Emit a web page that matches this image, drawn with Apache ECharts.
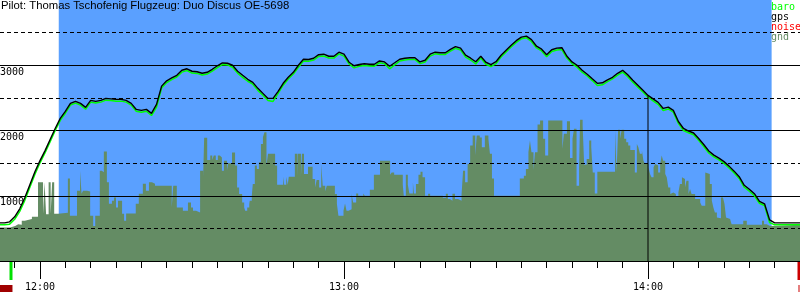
<!DOCTYPE html>
<html>
<head>
<meta charset="utf-8">
<script src="https://cdn.jsdelivr.net/npm/echarts@6/dist/echarts.min.js"></script>
<style>
  html, body { margin: 0; padding: 0; background: #fff; }
  #chart { width: 800px; height: 300px; }
</style>
</head>
<body>
<div id="chart"></div>
<script>
// times are minutes after midnight
const titleText = 'Pilot: Thomas Tschofenig Flugzeug: Duo Discus OE-5698'
const viewStart = 712.105
const viewEnd = 870
const sampleStart = 712 // one sample per minute from 11:52
const flightWindow = [723.7, 864.4]
const takeoffTime = 714.37
const landingTime = 869.8
const cursor = [840, 2530]
const minorTicks = [715, 720, 725, 730, 735, 740, 745, 750, 755, 760, 765, 770, 775, 780, 785, 790,
  795, 800, 805, 810, 815, 820, 825, 830, 835, 840, 845, 850, 855, 860, 865, 870]
const hourTicks = [720, 780, 840]
const altLabels = [1000, 2000, 3000]

const gpsAlt = [585, 585, 600, 677, 800, 969, 1169, 1369, 1538, 1692, 1862, 2031, 2185, 2292, 2415, 2446,
  2415, 2354, 2462, 2446, 2462, 2492, 2485, 2477, 2477, 2462, 2415, 2323, 2308, 2323, 2262, 2400,
  2680, 2762, 2805, 2846, 2923, 2946, 2908, 2900, 2877, 2892, 2938, 2992, 3035, 3031, 3000, 2908,
  2846, 2785, 2738, 2646, 2569, 2492, 2492, 2600, 2723, 2815, 2892, 3000, 3092, 3088, 3108, 3162,
  3169, 3138, 3138, 3200, 3169, 3046, 2992, 3011, 3023, 3015, 3015, 3066, 3051, 2985, 3038, 3092,
  3108, 3115, 3115, 3051, 3077, 3169, 3200, 3192, 3192, 3242, 3285, 3262, 3154, 3108, 3054, 3138,
  3046, 3011, 3054, 3154, 3231, 3308, 3377, 3431, 3446, 3392, 3292, 3246, 3162, 3238, 3262, 3269,
  3138, 3051, 3000, 2923, 2862, 2792, 2723, 2731, 2777, 2815, 2877, 2923, 2854, 2769, 2692, 2615,
  2538, 2485, 2431, 2338, 2358, 2308, 2138, 2031, 1992, 1962, 1877, 1785, 1685, 1623, 1577, 1523,
  1454, 1377, 1292, 1160, 1100, 1031, 915, 877, 630, 585, 585, 585, 585, 585, 585]

const baroAlt = [554, 554, 565, 640, 760, 930, 1130, 1330, 1505, 1660, 1830, 2000, 2155, 2265, 2390, 2420,
  2390, 2325, 2435, 2420, 2435, 2465, 2460, 2450, 2450, 2435, 2390, 2295, 2280, 2295, 2230, 2360,
  2650, 2735, 2780, 2820, 2895, 2920, 2880, 2875, 2850, 2865, 2910, 2965, 3010, 3005, 2970, 2880,
  2815, 2755, 2710, 2615, 2540, 2460, 2445, 2570, 2695, 2790, 2865, 2970, 3065, 3060, 3080, 3135,
  3140, 3110, 3110, 3175, 3140, 3020, 2960, 2985, 2995, 2990, 2985, 3040, 3025, 2945, 3005, 3065,
  3080, 3090, 3090, 3025, 3050, 3140, 3175, 3165, 3165, 3215, 3260, 3235, 3125, 3080, 3020, 3110,
  3015, 2980, 3025, 3125, 3205, 3280, 3350, 3405, 3420, 3365, 3265, 3220, 3130, 3210, 3235, 3240,
  3110, 3025, 2970, 2895, 2835, 2765, 2690, 2700, 2750, 2790, 2850, 2895, 2825, 2740, 2665, 2590,
  2510, 2455, 2400, 2305, 2330, 2280, 2110, 2000, 1965, 1935, 1850, 1755, 1655, 1595, 1550, 1495,
  1425, 1350, 1265, 1130, 1070, 1000, 885, 850, 590, 554, 554, 554, 554, 554, 554]

const noise = []

// ground elevation under the track: [time, metres], each level holds until the next time
const gndSteps = [
  [712.1, 515], [714.1, 538], [715.1, 565], [715.7, 554], [716.4, 615], [717.0, 642], [718.4, 677],
  [719.6, 1205], [720.6, 718], [720.9, 1205], [721.2, 718], [721.7, 1205], [722.1, 718], [722.4, 1205],
  [722.8, 723], [723.6, 738], [725.5, 1266], [725.9, 692], [727.3, 1077], [727.9, 1385], [728.2, 1031],
  [728.5, 1077], [729.3, 1066], [729.9, 692], [730.5, 538], [730.9, 692], [731.8, 1385], [732.2, 1362],
  [732.6, 1677], [733.2, 1205], [733.6, 877], [734.2, 923], [734.6, 974], [735.0, 820], [735.4, 923],
  [736.2, 723], [736.6, 615], [737.0, 728], [738.9, 877], [739.5, 1031], [740.3, 1185], [740.9, 1077],
  [741.5, 1205], [742.1, 1185], [742.7, 1154], [746.0, 820], [746.3, 1154], [747.0, 820], [748.2, 769],
  [749.2, 897], [749.8, 820], [750.2, 769], [750.8, 743], [751.6, 1385], [752.2, 1282], [752.4, 1888],
  [753.0, 1549], [753.6, 1615], [754.0, 1549], [754.3, 1615], [754.7, 1549], [755.1, 1615], [755.5, 1585],
  [755.9, 1385], [756.3, 1538], [756.9, 1385], [757.1, 1497], [757.9, 1662], [758.5, 1462], [758.9, 1128],
  [759.3, 1026], [759.9, 897], [760.3, 820], [760.5, 769], [760.9, 820], [761.3, 872], [761.4, 923],
  [761.8, 1000], [762.0, 1180], [762.4, 1462], [762.8, 1411], [763.2, 1512], [763.6, 1795], [764.0, 1897],
  [764.3, 1974], [764.7, 1462], [765.0, 1642], [766.4, 1462], [766.8, 1169], [768.0, 1292], [768.2, 1169],
  [768.6, 1292], [768.9, 1169], [769.1, 1292], [770.3, 1642], [770.8, 1292], [770.9, 1642], [771.5, 1292],
  [771.7, 1642], [772.1, 1334], [772.9, 1446], [773.8, 1257], [774.3, 1128], [774.6, 1242], [775.1, 1128],
  [775.5, 1488], [775.8, 1154], [776.3, 1066], [776.6, 1154], [778.2, 1026], [778.6, 872], [778.9, 692],
  [779.9, 769], [780.2, 882], [780.5, 769], [780.9, 795], [781.5, 1026], [781.8, 897], [782.4, 1035],
  [782.8, 1000], [783.8, 1035], [784.1, 1000], [785.1, 1092], [785.9, 1323], [787.1, 1538], [789.1, 1323],
  [789.4, 1358], [789.9, 1323], [791.6, 1169], [791.8, 1000], [792.2, 1323], [792.6, 1169], [792.9, 1035],
  [793.6, 1205], [793.8, 1035], [794.2, 1180], [794.7, 1323], [795.1, 1369], [795.5, 1282], [796.0, 1000],
  [796.6, 1031], [797.0, 1000], [799.5, 969], [800.1, 1031], [800.5, 949], [800.9, 923], [801.4, 1031],
  [801.9, 949], [802.5, 923], [803.2, 1015], [803.5, 1385], [803.9, 1205], [804.4, 1488], [804.9, 1769],
  [805.4, 1923], [805.9, 1615], [806.2, 1923], [806.8, 1892], [807.2, 1743], [807.8, 1923], [808.5, 1872],
  [808.8, 1642], [809.2, 1266], [809.6, 1000], [814.7, 1266], [815.5, 1308], [815.9, 1411], [816.4, 1666],
  [816.7, 1846], [817.0, 1666], [817.4, 1395], [817.7, 1666], [818.2, 2092], [818.7, 2154], [819.3, 1872],
  [819.7, 1615], [820.3, 2154], [823.1, 1718], [823.4, 1949], [824.0, 2143], [824.6, 1580], [825.1, 1872],
  [825.4, 2026], [825.9, 1154], [826.4, 1446], [826.6, 2165], [827.1, 2077], [827.4, 1477], [827.9, 1565],
  [828.4, 1846], [828.8, 1743], [829.1, 1358], [829.5, 1035], [830.0, 1369], [833.5, 2011], [833.8, 1369],
  [834.1, 2011], [834.5, 1872], [834.8, 2011], [835.3, 1872], [835.7, 1820], [836.1, 1769], [836.5, 1703],
  [837.4, 1358], [837.8, 1795], [838.1, 1743], [838.4, 1642], [838.8, 1692], [839.1, 1538], [839.4, 1488],
  [840.1, 1435], [840.4, 1334], [840.7, 1282], [841.1, 1435], [841.4, 1488], [841.7, 1462], [842.0, 1358],
  [842.4, 1488], [842.7, 1615], [843.0, 1538], [843.4, 1334], [843.7, 1282], [844.0, 1128], [844.4, 1026],
  [844.7, 1051], [845.0, 1026], [845.5, 985], [846.0, 1051], [846.3, 1180], [846.7, 1282], [847.0, 1257],
  [847.3, 1128], [847.6, 1231], [848.0, 1026], [848.3, 1103], [848.6, 1026], [849.3, 949], [850.3, 897],
  [850.6, 846], [851.3, 1358], [851.6, 1334], [852.2, 1180], [852.6, 923], [852.9, 820], [853.2, 743],
  [853.6, 666], [853.9, 657], [854.4, 974], [854.8, 949], [855.1, 872], [855.4, 666], [855.7, 642],
  [856.2, 615], [856.5, 565], [858.8, 615], [859.5, 554], [862.5, 615], [862.9, 565], [863.4, 538],
  [864.1, 554], [870.0, 554]
]

const blue = '#5aa0ff'
const gndColor = '#648c64'
const monoFont = 'DejaVu Sans Mono'

function hhmm(v) {
  const h = Math.floor(v / 60)
  const m = Math.round(v - h * 60)
  return h + ':' + String(m).padStart(2, '0')
}

const chart = echarts.init(document.getElementById('chart'))

const option = {
  animation: false,
  title: {
    text: titleText,
    left: 0,
    top: 0,
    padding: [0, 1],
    z: 10,
    textStyle: { fontFamily: 'Liberation Sans', fontSize: 11.3, fontWeight: 'normal', color: '#000' }
  },
  legend: {
    orient: 'vertical',
    left: 765,
    top: 2,
    padding: 0,
    itemGap: 0,
    itemWidth: 0,
    itemHeight: 0,
    selectedMode: false,
    textStyle: { fontFamily: monoFont, fontSize: 10, lineHeight: 10 },
    data: [
      { name: 'baro', textStyle: { color: '#00ff00' } },
      { name: 'gps', textStyle: { color: '#000' } },
      { name: 'noise', textStyle: { color: '#ff0000' } },
      { name: 'gnd', textStyle: { color: gndColor } }
    ]
  },
  grid: { left: 0, right: 0, top: 0, bottom: 39, outerBoundsMode: 'none', containLabel: false },
  xAxis: [
    {
      type: 'value',
      min: viewStart,
      max: viewEnd,
      z: 3,
      splitLine: { show: false },
      axisLine: { lineStyle: { color: '#000', width: 1 } },
      axisTick: { length: 7, customValues: minorTicks, lineStyle: { color: '#000' } },
      axisLabel: { show: false }
    },
    {
      type: 'value',
      min: viewStart,
      max: viewEnd,
      position: 'bottom',
      z: 3,
      splitLine: { show: false },
      axisLine: { show: false },
      axisTick: { length: 18, customValues: hourTicks, lineStyle: { color: '#000' } },
      axisLabel: {
        customValues: hourTicks,
        margin: 21,
        color: '#000',
        fontFamily: monoFont,
        fontSize: 10,
        formatter: hhmm
      }
    }
  ],
  yAxis: {
    type: 'value',
    min: 0,
    max: 4000,
    interval: 1000,
    z: 3,
    axisLine: { show: false },
    axisTick: { show: false },
    axisLabel: {
      inside: true,
      margin: 0,
      verticalAlign: 'top',
      padding: [2, 0, 0, 0],
      color: '#000',
      fontFamily: monoFont,
      fontSize: 10,
      formatter: v => (altLabels.includes(v) ? String(v) : '')
    },
    splitLine: { show: true, showMaxLine: false, lineStyle: { color: '#000', width: 1 } },
    minorTick: { show: false, splitNumber: 2 },
    minorSplitLine: { show: true, lineStyle: { color: '#000', width: 1, type: [4, 3] } }
  },
  series: [
    {
      name: 'window',
      type: 'custom',
      z: 0,
      silent: true,
      data: [flightWindow],
      renderItem: (params, api) => {
        const p0 = api.coord([api.value(0), 4000])
        const p1 = api.coord([api.value(1), 0])
        return {
          type: 'rect',
          shape: { x: p0[0], y: p0[1], width: p1[0] - p0[0], height: p1[1] - p0[1] },
          style: { fill: blue }
        }
      }
    },
    {
      name: 'gnd',
      type: 'line',
      step: 'end',
      z: 1,
      symbol: 'none',
      color: gndColor,
      lineStyle: { width: 0 },
      areaStyle: { color: gndColor, opacity: 1 },
      data: gndSteps
    },
    {
      name: 'noise',
      type: 'line',
      z: 4,
      symbol: 'none',
      color: '#ff0000',
      data: noise
    },
    {
      name: 'baro',
      type: 'line',
      z: 4,
      symbol: 'none',
      color: '#00ff00',
      lineStyle: { width: 1.5, color: '#00ff00' },
      data: baroAlt.map((v, i) => [sampleStart + i, v])
    },
    {
      name: 'gps',
      type: 'line',
      z: 5,
      symbol: 'none',
      color: '#000',
      lineStyle: { width: 1.4, color: '#000' },
      data: gpsAlt.map((v, i) => [sampleStart + i, v])
    },
    {
      name: 'cursor',
      type: 'line',
      z: 5,
      symbol: 'none',
      silent: true,
      lineStyle: { width: 1, color: '#000' },
      data: [[cursor[0], cursor[1]], [cursor[0], 0]]
    },
    {
      name: 'markers',
      type: 'custom',
      z: 5,
      silent: true,
      clip: false,
      data: [[takeoffTime, 0], [landingTime, 1]],
      renderItem: (params, api) => {
        const p = api.coord([api.value(0), 0])
        const left = api.coord([viewStart, 0])[0]
        const isStart = api.value(1) === 0
        const children = [{
          type: 'rect',
          shape: { x: Math.round(p[0]) - 1.5, y: p[1] + 1, width: 3, height: 18 },
          style: { fill: isStart ? '#00e000' : '#cc0000' }
        }]
        if (isStart) {
          children.push({
            type: 'rect',
            shape: { x: left, y: p[1] + 24, width: p[0] + 1 - left, height: 7 },
            style: { fill: '#a00000' }
          })
        } else {
          children.push({
            type: 'rect',
            shape: { x: Math.round(p[0]) - 0.5, y: p[1] + 24, width: 1, height: 7 },
            style: { fill: '#cc0000' }
          })
        }
        return { type: 'group', children: children }
      }
    }
  ]
}

chart.setOption(option)
</script>
</body>
</html>
